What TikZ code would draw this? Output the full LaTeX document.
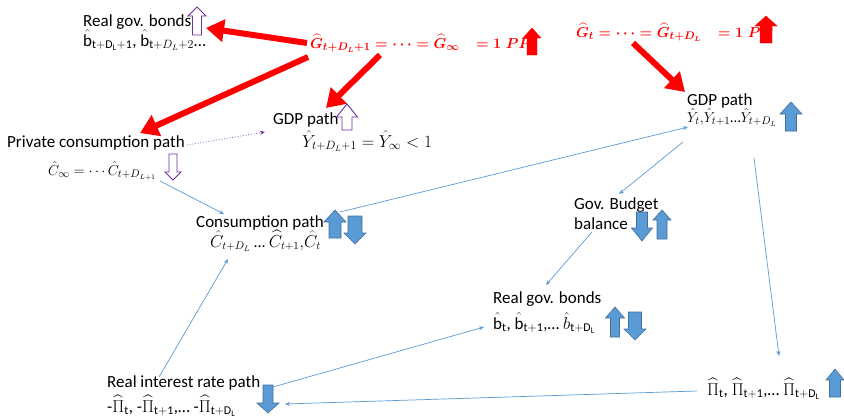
\documentclass[tikz,border=0pt]{standalone}
\usepackage{amsmath}
\usepackage{fontspec}
\setmainfont{Carlito}
\usetikzlibrary{arrows.meta}
\definecolor{blu}{RGB}{91,155,213}
\definecolor{bluedge}{RGB}{65,113,156}
\definecolor{purp}{RGB}{112,48,160}
\tikzset{
 txt/.style={anchor=base west,inner sep=0pt,font=\fontsize{17}{19}\selectfont},
 mtxt/.style={anchor=base west,inner sep=0pt,font=\fontsize{15}{17}\selectfont},
 redtxt/.style={anchor=base west,inner sep=0pt,text=red,font=\fontsize{15}{17}\selectfont\bfseries\boldmath},
 redarr/.style={draw=red,line width=6pt,-{Triangle[length=18pt,width=22pt]}},
 conn/.style={draw=blu,line width=0.7pt,-{Stealth[length=5pt,width=4pt]}},
 dotconn/.style={draw=purp,line width=0.7pt,dotted,-{Stealth[length=5pt,width=4pt]}},
 purparrow/.style={draw=purp,line width=0.9pt,fill=white},
 bluearrow/.style={draw=bluedge,line width=0.6pt,fill=blu},
 redblock/.style={fill=red,draw=red,line width=0.4pt},
}
\newcommand\blkup[7]{\draw[#7] ({#1-#4},#6) -- (#1,#2) -- ({#1+#4},#6) -- ({#1+#5},#6) -- ({#1+#5},#3) -- ({#1-#5},#3) -- ({#1-#5},#6) -- cycle;}
\newcommand\blkdown[7]{\draw[#7] ({#1-#4},#6) -- (#1,#3) -- ({#1+#4},#6) -- ({#1+#5},#6) -- ({#1+#5},#2) -- ({#1-#5},#2) -- ({#1-#5},#6) -- cycle;}
\begin{document}
\begin{tikzpicture}[x=1pt,y=-1pt]
\fill[white] (0,0) rectangle (844,418);
\useasboundingbox (0,0) rectangle (844,418);

% texts
\node[txt] (rgb1) at (83,26) {Real gov. bonds};
\node[txt] (rgb1m) at (83,46) {$\hat{\mathrm{b}}_{\mathrm{t+D_L+1}}$, $\hat{\mathrm{b}}_{\mathrm{t}+D_L+2}$…};
\node[redtxt] (g1) at (310,48) {$\widehat{G}_{t+D_L+1}=\cdots=\widehat{G}_\infty\hspace{0.8em}=1\;PP$};
\node[redtxt] (g2) at (576,37) {$\widehat{G}_t=\cdots=\widehat{G}_{t+D_L}\hspace{0.8em}=1\;PP$};
\node[txt] (pcp) at (7,147) {Private consumption path};
\node[mtxt] (cinf) at (48,175) {$\hat{C}_\infty=\cdots\hat{C}_{t+D_{L+1}}$};
\node[txt] (gdp1) at (273,124) {GDP path};
\node[mtxt,font=\fontsize{16.5}{18}\selectfont] (y1) at (302,147) {$\hat{Y}_{t+D_L+1}=\hat{Y}_\infty<1$};
\node[txt] (gdp2) at (687,105) {GDP path};
\node[mtxt] (y2) at (687,122) {$\hat{Y}_t{,}\hat{Y}_{t+1}$…$\hat{Y}_{t+D_L}$};
\node[txt] (cp) at (196,227) {Consumption path};
\node[mtxt,font=\fontsize{16}{18}\selectfont] (cpm) at (210,247) {$\hat{C}_{t+D_L}$ … $\widehat{C}_{t+1}{,}\hat{C}_t$};
\node[txt] (gb1) at (574,209) {Gov. Budget};
\node[txt] (gb2) at (574,229) {balance};
\node[txt] (rgb2) at (493,303) {Real gov. bonds};
\node[txt] (rgb2m) at (493,329) {$\hat{\mathrm{b}}_{\mathrm{t}}$, $\hat{\mathrm{b}}_{\mathrm{t+1}}$,… $\hat{b}_{\mathrm{t+D_L}}$};
\node[txt] (rir) at (107,387) {Real interest rate path};
\node[txt] (rirm) at (107,412) {-$\widehat{\Pi}_{\mathrm{t}}$, -$\widehat{\Pi}_{\mathrm{t+1}}$,… -$\widehat{\Pi}_{\mathrm{t+D_L}}$};
\node[txt] (pim) at (707,395) {$\widehat{\Pi}_{\mathrm{t}}$, $\widehat{\Pi}_{\mathrm{t+1}}$,… $\widehat{\Pi}_{\mathrm{t+D_L}}$};

% connector end points
\coordinate (g1w) at (307,43);
\coordinate (g1sw) at (308,57);
\coordinate (g1s) at (380,55);
\coordinate (g2s) at (633,43);
\coordinate (rgb1e) at (206,28);
\coordinate (pcpn) at (140,133);
\coordinate (gdp1n) at (326,108);
\coordinate (gdp2nw) at (685,92);
\coordinate (pcpe) at (187,145);
\coordinate (gdp1w) at (265,132);
\coordinate (cinfs) at (160,181);
\coordinate (cpn) at (224,214);
\coordinate (cpms) at (228,259);
\coordinate (rirn) at (159,377);
\coordinate (cpe) at (340,212);
\coordinate (y2w) at (688,127);
\coordinate (y2sw) at (683,142);
\coordinate (gb1n) at (619,194);
\coordinate (gb2s) at (592,232);
\coordinate (rgb2n) at (546,285);
\coordinate (y2s) at (754,158);
\coordinate (pimn) at (779,356);
\coordinate (rire) at (273,387);
\coordinate (rgb2w) at (484,327);
\coordinate (pimw) at (697,391);
\coordinate (rirme) at (285,404);

% red arrows
\draw[redarr] (g1w) -- (rgb1e);
\draw[redarr] (g1sw) -- (pcpn);
\draw[redarr] (g1s) -- (gdp1n);
\draw[redarr] (g2s) -- (gdp2nw);

% thin connectors
\draw[dotconn] (pcpe) -- (gdp1w);
\draw[conn] (cinfs) -- (cpn);
\draw[conn] (rirn) -- (cpms);
\draw[conn] (cpe) -- (y2w);
\draw[conn] (y2sw) -- (gb1n);
\draw[conn] (gb2s) -- (rgb2n);
\draw[conn] (y2s) -- (pimn);
\draw[conn] (rire) -- (rgb2w);
\draw[conn] (pimw) -- (rirme);

% block arrows
\blkup{532}{28}{55}{9}{5}{38}{redblock}
\blkup{766}{16}{43}{11}{6}{26}{redblock}
\blkup{197}{7}{35}{9}{4.5}{16}{purparrow}
\blkdown{173}{154}{180}{8}{4}{172}{purparrow}
\blkup{347}{104}{130}{10.5}{5}{117}{purparrow}
\blkup{791}{102}{131}{11}{5.5}{114}{bluearrow}
\blkup{335}{210}{238}{11}{6}{222}{bluearrow}
\blkdown{355}{216}{244}{11}{7}{233}{bluearrow}
\blkdown{642}{212}{241}{10.5}{5.5}{228}{bluearrow}
\blkup{662}{210}{239}{9}{5}{220}{bluearrow}
\blkup{615}{307}{337}{9.5}{4.5}{318}{bluearrow}
\blkdown{635}{312}{340}{11}{6.5}{329}{bluearrow}
\blkdown{268}{385}{413}{11}{5}{403}{bluearrow}
\blkup{835}{369}{397}{9}{5.5}{380}{bluearrow}
\end{tikzpicture}
\end{document}
